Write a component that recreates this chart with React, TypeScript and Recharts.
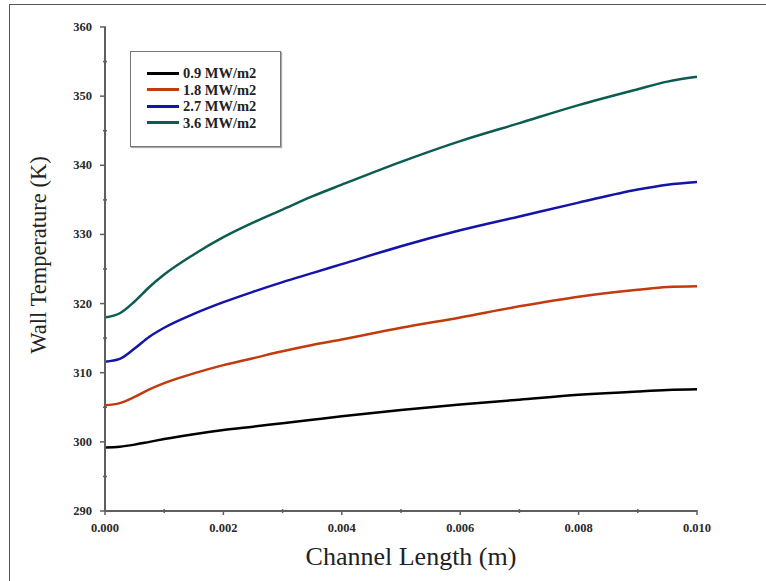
import React from "react";
import {
  LineChart,
  Line,
  XAxis,
  YAxis,
  Legend,
} from "recharts";

// channel length (m)
const xs = [0, 0.00025, 0.0005, 0.00075, 0.001, 0.0015, 0.002, 0.0025, 0.003, 0.0035, 0.004, 0.005, 0.006, 0.007, 0.008, 0.009, 0.0095, 0.01];

// wall temperature (K) for each heat flux
const q09 = [299.2, 299.3, 299.6, 300.0, 300.4, 301.1, 301.7, 302.2, 302.7, 303.2, 303.7, 304.6, 305.4, 306.1, 306.8, 307.3, 307.5, 307.6];
const q18 = [305.3, 305.6, 306.5, 307.6, 308.5, 309.9, 311.1, 312.1, 313.1, 314.0, 314.8, 316.5, 318.0, 319.6, 321.0, 322.0, 322.4, 322.5];
const q27 = [311.6, 312.0, 313.5, 315.2, 316.5, 318.5, 320.2, 321.7, 323.1, 324.4, 325.7, 328.3, 330.6, 332.6, 334.6, 336.5, 337.2, 337.6];
const q36 = [318.0, 318.6, 320.3, 322.4, 324.2, 327.1, 329.6, 331.7, 333.6, 335.5, 337.2, 340.5, 343.5, 346.1, 348.7, 351.0, 352.1, 352.8];

const xTicks = [0, 0.001, 0.002, 0.003, 0.004, 0.005, 0.006, 0.007, 0.008, 0.009, 0.01];
const yTicks = [290, 295, 300, 305, 310, 315, 320, 325, 330, 335, 340, 345, 350, 355, 360];

const SERIES = [
  { key: "q09", name: "0.9 MW/m2", color: "#000000" },
  { key: "q18", name: "1.8 MW/m2", color: "#C23B0E" },
  { key: "q27", name: "2.7 MW/m2", color: "#1414A8" },
  { key: "q36", name: "3.6 MW/m2", color: "#0D5C52" },
];

const data = xs.map((x, i) => ({ x, q09: q09[i], q18: q18[i], q27: q27[i], q36: q36[i] }));

const SERIF = '"Liberation Serif", "Times New Roman", serif';
const AXIS = "#5f5f5f";

function YTick(props: any) {
  const { x, y, payload } = props;
  const major = payload.value % 10 === 0;
  return (
    <g>
      <line x1={x - (major ? 5 : 2)} x2={x + (major ? 1 : 2)} y1={y} y2={y} stroke={AXIS} strokeWidth={1.5} />
      {major && (
        <text x={x - 13} y={y + 4} textAnchor="end" fontFamily={SERIF} fontWeight="bold" fontSize={12.5} fill="#2a2a2a">
          {payload.value}
        </text>
      )}
    </g>
  );
}

function XTick(props: any) {
  const { x, y, payload } = props;
  const major = Math.round(payload.value * 1000) % 2 === 0;
  return (
    <g>
      <line x1={x} x2={x} y1={y - (major ? 1 : 2)} y2={y + (major ? 4 : 2)} stroke={AXIS} strokeWidth={1.5} />
      {major && (
        <text x={x} y={y + 21} textAnchor="middle" fontFamily={SERIF} fontWeight="bold" fontSize={12.5} fill="#2a2a2a">
          {payload.value.toFixed(3)}
        </text>
      )}
    </g>
  );
}

function LegendBox() {
  return (
    <div
      style={{
        width: 151,
        height: 96,
        boxSizing: "border-box",
        border: "1px solid #777",
        boxShadow: "1px 1px 1px #aaa",
        background: "#fff",
        padding: "13px 0 0 16px",
      }}
    >
      {SERIES.map((s) => (
        <div key={s.key} style={{ display: "flex", alignItems: "center", height: 16.5 }}>
          <span style={{ width: 32, height: 3, background: s.color, display: "inline-block" }} />
          <span
            style={{
              marginLeft: 4,
              fontFamily: SERIF,
              fontWeight: "bold",
              fontSize: 14.5,
              color: "#222",
              lineHeight: "16px",
            }}
          >
            {s.name}
          </span>
        </div>
      ))}
    </div>
  );
}

export default function App() {
  return (
    <div style={{ position: "absolute", left: 0, top: 0, width: 766, height: 581, background: "#fff", overflow: "hidden" }}>
      {/* outer frame, open on the right and bottom */}
      <div
        style={{
          position: "absolute",
          left: 9,
          top: 4,
          width: 800,
          height: 620,
          borderTop: "1.5px solid #555",
          borderLeft: "1.5px solid #555",
        }}
      />
      <div style={{ position: "absolute", left: 0, top: 0 }}>
        <LineChart width={766} height={581} data={data} margin={{ top: 27, right: 69, bottom: 40, left: 5 }}>
          <XAxis
            dataKey="x"
            type="number"
            domain={[0, 0.01]}
            ticks={xTicks}
            interval={0}
            height={30}
            tickSize={0}
            tickMargin={0}
            tickLine={false}
            axisLine={{ stroke: AXIS, strokeWidth: 2 }}
            tick={<XTick />}
            label={{
              content: (p: any) => {
                const vb = p.viewBox;
                return (
                  <text x={vb.x + vb.width / 2 + 10} y={vb.y + 54} textAnchor="middle" fontFamily={SERIF} fontSize={26} fill="#222">
                    Channel Length (m)
                  </text>
                );
              },
            }}
          />
          <XAxis xAxisId="top" dataKey="x" type="number" domain={[0, 0.01]} orientation="top" height={0} tick={false} tickLine={false} axisLine={{ stroke: AXIS, strokeWidth: 2 }} />
          <YAxis
            type="number"
            domain={[290, 360]}
            ticks={yTicks}
            interval={0}
            width={100}
            tickSize={0}
            tickMargin={0}
            tickLine={false}
            axisLine={{ stroke: AXIS, strokeWidth: 2 }}
            tick={<YTick />}
            label={{
              content: (p: any) => {
                const vb = p.viewBox;
                const cx = vb.x + 41;
                const cy = vb.y + vb.height / 2 - 14;
                return (
                  <text x={cx} y={cy} transform={`rotate(-90 ${cx} ${cy})`} textAnchor="middle" fontFamily={SERIF} fontSize={22.5} fill="#222">
                    Wall Temperature (K)
                  </text>
                );
              },
            }}
          />
          <YAxis yAxisId="right" type="number" domain={[290, 360]} orientation="right" width={0} tick={false} tickLine={false} axisLine={{ stroke: AXIS, strokeWidth: 2 }} />
          <Legend
            layout="vertical"
            align="center"
            verticalAlign="middle"
            content={<LegendBox />}
            wrapperStyle={{ left: 130, top: 51, width: 151, height: 96 }}
          />
          {SERIES.map((s) => (
            <Line
              key={s.key}
              type="monotone"
              dataKey={s.key}
              name={s.name}
              stroke={s.color}
              strokeWidth={2.5}
              dot={false}
              isAnimationActive={false}
            />
          ))}
        </LineChart>
      </div>
    </div>
  );
}
